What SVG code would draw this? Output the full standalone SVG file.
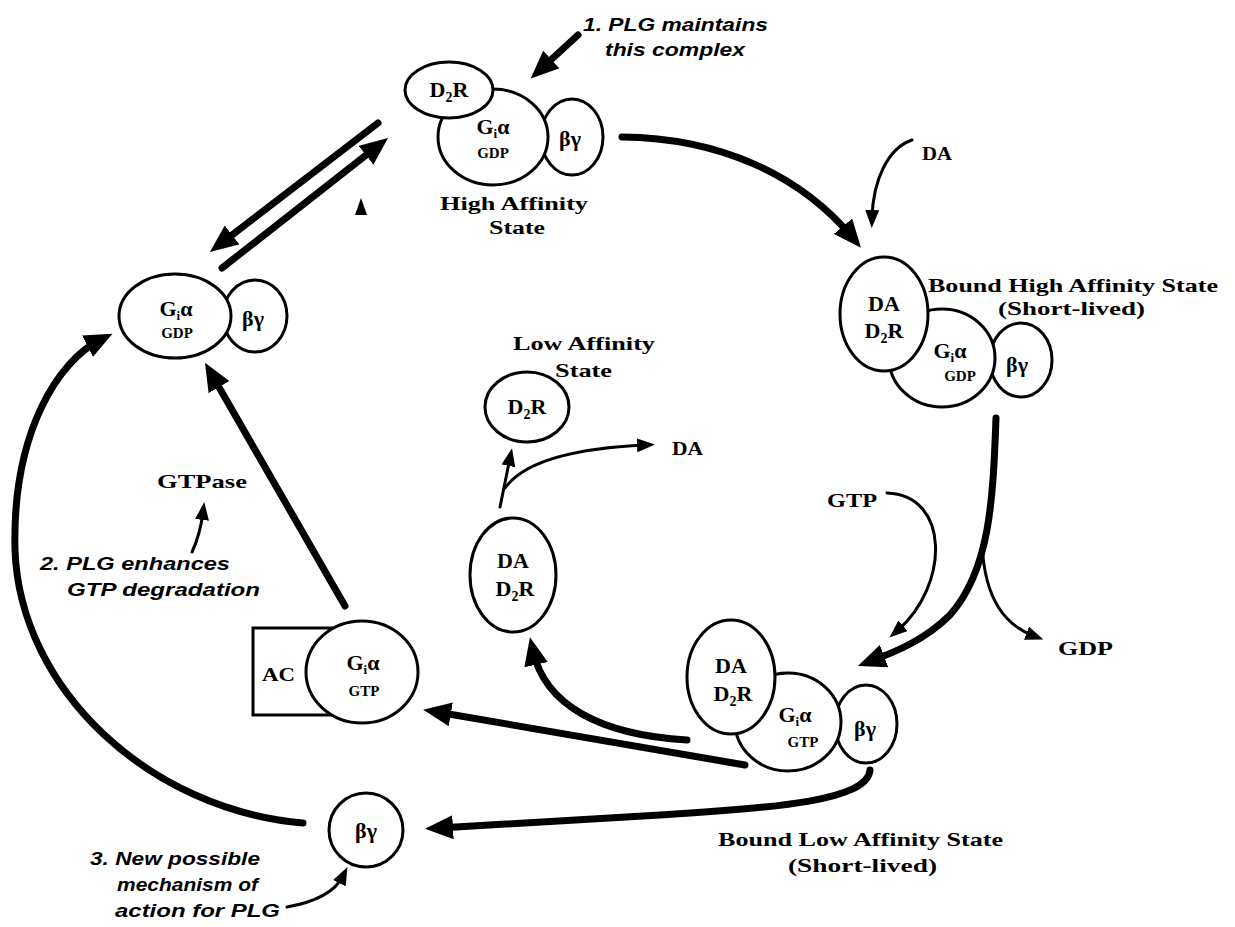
<svg xmlns="http://www.w3.org/2000/svg" width="1235" height="927" viewBox="0 0 1235 927">
<style>
  .node { fill: #fff; stroke: #000; stroke-width: 3; }
  .lbl { font-family: "Liberation Serif", "Times New Roman", serif; font-weight: bold; fill: #000; }
  .n { font-size: 22px; text-anchor: middle; }
  .s { font-size: 15px; text-anchor: middle; }
  .cap { font-size: 19px; }
  .note { font-family: "Liberation Sans", Arial, sans-serif; font-weight: bold; font-style: italic; font-size: 19px; fill: #000; }
  .thick { fill: none; stroke: #000; stroke-width: 7; stroke-linecap: round; }
  .thin { fill: none; stroke: #000; stroke-width: 3; stroke-linecap: round; }
</style>
<defs>
  <marker id="big" markerUnits="userSpaceOnUse" viewBox="0 0 28 24" markerWidth="28" markerHeight="24" refX="14" refY="12" orient="auto">
    <path d="M0,0 L28,12 L0,24 z" fill="#000"/>
  </marker>
  <marker id="small" markerUnits="userSpaceOnUse" viewBox="0 0 18 14" markerWidth="18" markerHeight="14" refX="8" refY="7" orient="auto">
    <path d="M0,0 L18,7 L0,14 z" fill="#000"/>
  </marker>
</defs>
<rect width="1235" height="927" fill="#fff"/>

<g id="connectors">
  <path class="thick" d="M578 35 L541 69" stroke-width="5" marker-end="url(#big)"/>
  <path class="thick" d="M378 123 L221 243.5" marker-end="url(#big)"/>
  <path class="thick" d="M222 268 L377 146.6" marker-end="url(#big)"/>
  <path class="thick" d="M622 137 C720 138 800 175 852 237" marker-end="url(#big)"/>
  <path class="thin" d="M912 140 C888 148 873 180 872 218" marker-end="url(#small)"/>
  <path class="thick" d="M996 418 C993 500 990 570 950 615 C925 640 895 652 871 661" marker-end="url(#big)"/>
  <path class="thin" d="M982 545 C985 600 1005 625 1034 636" marker-end="url(#small)"/>
  <path class="thin" d="M887 493 C950 495 950 585 897 631" marker-end="url(#small)"/>
  <path class="thick" d="M687 740 C600 735 545 705 533 651" marker-end="url(#big)"/>
  <path class="thick" d="M745 765 L437 712" marker-end="url(#big)"/>
  <path class="thick" d="M870 770 C868 800 780 808 660 815 L439 828" marker-end="url(#big)"/>
  <path class="thick" d="M345 606 L212 375" marker-end="url(#big)"/>
  <path class="thin" d="M192 552 C200 535 202 520 203 512" marker-end="url(#small)"/>
  <path class="thick" d="M303 823 C150 810 20 690 15 550 C12 430 60 360 100 340" stroke-width="6" marker-end="url(#big)"/>
  <path class="thin" d="M287 907 C315 902 335 892 343 876" stroke-width="3.5" marker-end="url(#small)"/>
  <path class="thin" d="M500 507 L510 458" marker-end="url(#small)"/>
  <path class="thin" d="M505 488 C525 460 580 448 645 445" marker-end="url(#small)"/>
  <polygon points="361,198 367,215 355,215" fill="#000"/>
</g>

<g id="high-affinity">
  <ellipse class="node" cx="572" cy="137" rx="31" ry="38"/>
  <ellipse class="node" cx="493" cy="137" rx="55" ry="48"/>
  <ellipse class="node" cx="449" cy="90" rx="44" ry="28"/>
  <text class="lbl n" x="449" y="97">D<tspan font-size="14" dy="5">2</tspan><tspan dy="-5">R</tspan></text>
  <text class="lbl n" x="493" y="134">G<tspan font-size="13" dy="4">i</tspan><tspan dy="-4">α</tspan></text>
  <text class="lbl s" x="493" y="158">GDP</text>
  <text class="lbl n" x="570" y="146">βγ</text>
  <text class="lbl cap" x="440" y="210" textLength="148" lengthAdjust="spacingAndGlyphs" font-size="22">High Affinity</text>
  <text class="lbl cap" x="489" y="234" textLength="56" lengthAdjust="spacingAndGlyphs" font-size="22">State</text>
</g>

<g id="gi-gdp">
  <ellipse class="node" cx="255" cy="316" rx="32" ry="36"/>
  <ellipse class="node" cx="175" cy="316" rx="56" ry="42"/>
  <text class="lbl n" x="176" y="316">G<tspan font-size="13" dy="4">i</tspan><tspan dy="-4">α</tspan></text>
  <text class="lbl s" x="177" y="338">GDP</text>
  <text class="lbl n" x="253" y="326">βγ</text>
</g>

<g id="bound-high">
  <ellipse class="node" cx="1021" cy="360" rx="31" ry="37"/>
  <ellipse class="node" cx="942" cy="358" rx="53" ry="49"/>
  <ellipse class="node" cx="884" cy="314" rx="44" ry="57"/>
  <text class="lbl n" x="884" y="311">DA</text>
  <text class="lbl n" x="884" y="338">D<tspan font-size="14" dy="5">2</tspan><tspan dy="-5">R</tspan></text>
  <text class="lbl n" x="950" y="358">G<tspan font-size="13" dy="4">i</tspan><tspan dy="-4">α</tspan></text>
  <text class="lbl s" x="960" y="381">GDP</text>
  <text class="lbl n" x="1017" y="372">βγ</text>
  <text class="lbl cap" x="928" y="292" textLength="290" lengthAdjust="spacingAndGlyphs" font-size="21">Bound High Affinity State</text>
  <text class="lbl cap" x="998" y="315" textLength="147" lengthAdjust="spacingAndGlyphs" font-size="21">(Short-lived)</text>
</g>

<g id="da-top">
  <text class="lbl cap" x="922" y="160" textLength="30" lengthAdjust="spacingAndGlyphs" font-size="19">DA</text>
</g>

<g id="low-affinity">
  <ellipse class="node" cx="527" cy="407" rx="42" ry="35"/>
  <text class="lbl n" x="527" y="414">D<tspan font-size="14" dy="5">2</tspan><tspan dy="-5">R</tspan></text>
  <text class="lbl cap" x="513" y="350" textLength="142" lengthAdjust="spacingAndGlyphs" font-size="22">Low Affinity</text>
  <text class="lbl cap" x="555" y="377" textLength="57" lengthAdjust="spacingAndGlyphs" font-size="22">State</text>
</g>

<g id="da-mid">
  <text class="lbl cap" x="672" y="455" textLength="31" lengthAdjust="spacingAndGlyphs" font-size="20">DA</text>
</g>

<g id="da-d2r">
  <ellipse class="node" cx="513" cy="575" rx="43" ry="57"/>
  <text class="lbl n" x="513" y="568">DA</text>
  <text class="lbl n" x="515" y="596">D<tspan font-size="14" dy="5">2</tspan><tspan dy="-5">R</tspan></text>
</g>

<g id="gtp-label">
  <text class="lbl cap" x="827" y="507" textLength="50" lengthAdjust="spacingAndGlyphs" font-size="21">GTP</text>
</g>

<g id="gdp-label">
  <text class="lbl cap" x="1058" y="655" textLength="55" lengthAdjust="spacingAndGlyphs" font-size="21">GDP</text>
</g>

<g id="bound-low">
  <ellipse class="node" cx="866" cy="724" rx="31" ry="39"/>
  <ellipse class="node" cx="788" cy="722" rx="53" ry="49"/>
  <ellipse class="node" cx="731" cy="677" rx="44" ry="57"/>
  <text class="lbl n" x="731" y="673">DA</text>
  <text class="lbl n" x="733" y="701">D<tspan font-size="14" dy="5">2</tspan><tspan dy="-5">R</tspan></text>
  <text class="lbl n" x="795" y="722">G<tspan font-size="13" dy="4">i</tspan><tspan dy="-4">α</tspan></text>
  <text class="lbl s" x="803" y="747">GTP</text>
  <text class="lbl n" x="865" y="736">βγ</text>
  <text class="lbl cap" x="718" y="846" textLength="285" lengthAdjust="spacingAndGlyphs" font-size="21">Bound Low Affinity State</text>
  <text class="lbl cap" x="788" y="872" textLength="149" lengthAdjust="spacingAndGlyphs" font-size="21">(Short-lived)</text>
</g>

<g id="ac-gtp">
  <rect x="253" y="628" width="90" height="87" fill="#fff" stroke="#000" stroke-width="3"/>
  <ellipse class="node" cx="362" cy="672" rx="56" ry="51"/>
  <text class="lbl cap" x="262" y="681" textLength="33" lengthAdjust="spacingAndGlyphs" font-size="21">AC</text>
  <text class="lbl n" x="363" y="670">G<tspan font-size="13" dy="4">i</tspan><tspan dy="-4">α</tspan></text>
  <text class="lbl s" x="364" y="696">GTP</text>
</g>

<g id="gtpase">
  <text class="lbl cap" x="157" y="488" textLength="90" lengthAdjust="spacingAndGlyphs" font-size="21">GTPase</text>
</g>

<g id="by-free">
  <ellipse class="node" cx="366" cy="830" rx="37" ry="37"/>
  <text class="lbl n" x="366" y="838">βγ</text>
</g>

<g id="notes">
  <text class="note" x="583" y="31" textLength="185" lengthAdjust="spacingAndGlyphs">1. PLG maintains</text>
  <text class="note" x="605" y="56" textLength="140" lengthAdjust="spacingAndGlyphs">this complex</text>
  <text class="note" x="40" y="570" textLength="190" lengthAdjust="spacingAndGlyphs">2. PLG enhances</text>
  <text class="note" x="67" y="596" textLength="193" lengthAdjust="spacingAndGlyphs">GTP degradation</text>
  <text class="note" x="90" y="865" textLength="170" lengthAdjust="spacingAndGlyphs">3. New possible</text>
  <text class="note" x="117" y="891" textLength="141" lengthAdjust="spacingAndGlyphs">mechanism of</text>
  <text class="note" x="115" y="917" textLength="165" lengthAdjust="spacingAndGlyphs">action for PLG</text>
</g>
</svg>
